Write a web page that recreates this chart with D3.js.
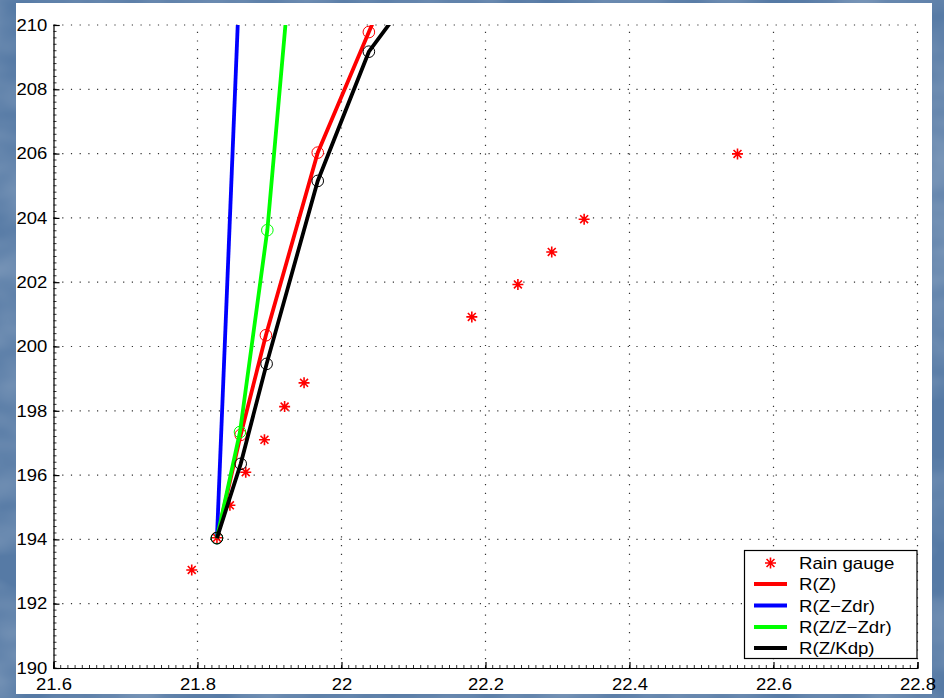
<!DOCTYPE html>
<html>
<head>
<meta charset="utf-8">
<script src="https://cdn.jsdelivr.net/npm/d3@7"></script>
<style>
  body { margin: 0; background: #5a7aa3; }
  svg { display: block; }
  text { font-family: "Liberation Sans", Arial, sans-serif; }
</style>
</head>
<body>
<svg id="chart" width="944" height="698"></svg>
<script>
var w = 944;
var h = 698;

// rain gauge points (asterisks)
var gaugeX = [21.792, 21.827, 21.845, 21.867, 21.893, 21.921, 21.948, 22.181, 22.245, 22.292, 22.337, 22.550];
var gaugeY = [193.05, 194.05, 195.06, 196.09, 197.10, 198.13, 198.87, 200.92, 201.93, 202.94, 203.96, 205.99];

// estimator lines (last point of each runs off the top and is clipped)
var rzX = [21.827, 21.860, 21.895, 21.967, 22.038, 22.071];
var rzY = [194.05, 197.25, 200.35, 206.03, 209.78, 211.5];
var zdrX = [21.827, 21.8595];
var zdrY = [194.04, 212];
var zzdrX = [21.827, 21.859, 21.897, 21.930];
var zzdrY = [194.04, 197.34, 203.62, 212];
var kdpX = [21.827, 21.860, 21.896, 21.967, 22.038, 22.115];
var kdpY = [194.04, 196.35, 199.46, 205.15, 209.17, 211.5];

var legendLabels = ["Rain gauge", "R(Z)", "R(Z\u2212Zdr)", "R(Z/Z\u2212Zdr)", "R(Z/Kdp)"];
var xTicks = [21.6, 21.8, 22, 22.2, 22.4, 22.6, 22.8];
var yTicks = [190, 192, 194, 196, 198, 200, 202, 204, 206, 208, 210];

var svg = d3.select("#chart");

// textured blue backdrop
var defs = svg.append("defs");
var f = defs.append("filter").attr("id", "tex").attr("x", 0).attr("y", 0).attr("width", 1).attr("height", 1);
f.append("feTurbulence").attr("type", "fractalNoise").attr("baseFrequency", "0.012 0.02").attr("numOctaves", 3).attr("seed", 4);
f.append("feColorMatrix").attr("type", "matrix")
  .attr("values", "0 0 0 0 1  0 0 0 0 1  0 0 0 0 1  0 0 0 0.4 -0.12");
defs.append("clipPath").attr("id", "plotclip")
  .append("rect").attr("x", 53.5).attr("y", 25).attr("width", 864).attr("height", 643);

svg.append("rect").attr("width", w).attr("height", h).attr("fill", "#567aa5");
svg.append("rect").attr("width", w).attr("height", h).attr("filter", "url(#tex)");

// white figure area
svg.append("rect").attr("x", 16).attr("y", 3).attr("width", 916).attr("height", 691).attr("fill", "#fff");

var x = d3.scaleLinear().domain([21.6, 22.8]).range([53.5, 917.5]);
var y = d3.scaleLinear().domain([190, 210]).range([668, 25]);

// dotted grid
var grid = svg.append("g").attr("stroke", "#333").attr("stroke-width", 1.2).attr("stroke-dasharray", "1.2,7.5");
grid.selectAll("line.gx").data(xTicks.slice(1)).join("line")
  .attr("x1", d => x(d)).attr("x2", d => x(d)).attr("y1", 668).attr("y2", 25);
grid.selectAll("line.gy").data(yTicks.slice(1)).join("line")
  .attr("y1", d => y(d)).attr("y2", d => y(d)).attr("x1", 53.5).attr("x2", 917.5);

// minor ticks
var minor = svg.append("g").attr("stroke", "#000").attr("stroke-width", 0.8);
minor.selectAll("line.mx").data(d3.range(21.6, 22.8001, 0.01)).join("line")
  .attr("x1", d => x(d)).attr("x2", d => x(d)).attr("y1", 668).attr("y2", 665);
minor.selectAll("line.my").data(d3.range(190, 210.001, 0.2)).join("line")
  .attr("y1", d => y(d)).attr("y2", d => y(d)).attr("x1", 53.5).attr("x2", 56.5);

var xAxis = d3.axisBottom(x).tickValues(xTicks).tickFormat(d3.format("")).tickSize(-6).tickPadding(10);
var yAxis = d3.axisLeft(y).tickValues(yTicks).tickSize(-6).tickPadding(8);

var gx = svg.append("g").attr("transform", "translate(0,668)").call(xAxis);
var gy = svg.append("g").attr("transform", "translate(53.5,0)").call(yAxis);
[gx, gy].forEach(function (g) {
  g.select(".domain").attr("stroke", "#000").attr("stroke-width", 1.2);
  g.selectAll(".tick line").attr("stroke", "#000").attr("stroke-width", 1.2);
  g.selectAll(".tick text").attr("fill", "#000").style("font-size", "16.5px");
});
gx.selectAll(".tick text").attr("transform", "scale(1.12,1)").attr("x", 0);
gy.selectAll(".tick text").attr("transform", "translate(-5,0) scale(1.12,1)").attr("x", -1);

// asterisk marker like matlab '*'
function star(g, cx, cy, r) {
  var a = r * 0.72;
  g.append("path")
    .attr("d", "M" + (cx - r) + "," + cy + "h" + 2 * r +
      "M" + cx + "," + (cy - r) + "v" + 2 * r +
      "M" + (cx - a) + "," + (cy - a) + "l" + 2 * a + "," + 2 * a +
      "M" + (cx - a) + "," + (cy + a) + "l" + 2 * a + "," + -2 * a)
    .attr("stroke", "#ff0000").attr("stroke-width", 1.6).attr("fill", "none");
}

var plot = svg.append("g").attr("clip-path", "url(#plotclip)");

var gaugeG = plot.append("g");
gaugeX.forEach(function (d, i) { star(gaugeG, x(d), y(gaugeY[i]), 5.5); });

var series = [
  { xs: rzX, ys: rzY, color: "#ff0000" },
  { xs: zdrX, ys: zdrY, color: "#0000ff" },
  { xs: zzdrX, ys: zzdrY, color: "#00ff00" },
  { xs: kdpX, ys: kdpY, color: "#000000" }
];

var line = d3.line().x(d => x(d[0])).y(d => y(d[1]));

series.forEach(function (s) {
  var pts = s.xs.map((d, i) => [d, s.ys[i]]);
  plot.append("path").datum(pts)
    .attr("d", line)
    .attr("fill", "none")
    .attr("stroke", s.color)
    .attr("stroke-width", 3.8);
  plot.selectAll(null).data(pts.filter(p => p[1] <= 210)).join("circle")
    .attr("cx", d => x(d[0]))
    .attr("cy", d => y(d[1]))
    .attr("r", 5.8)
    .attr("fill", "none")
    .attr("stroke", s.color)
    .attr("stroke-width", 1);
});

// legend
var lg = svg.append("g");
lg.append("rect").attr("x", 744.5).attr("y", 550.5).attr("width", 172.5).attr("height", 108)
  .attr("fill", "#fff").attr("stroke", "#000").attr("stroke-width", 1.2);
var rowY = [563, 584, 605.5, 627, 648];
legendLabels.forEach(function (lab, i) {
  if (i === 0) {
    star(lg, 770.5, rowY[i], 5.5);
  } else {
    lg.append("line").attr("x1", 754).attr("x2", 787).attr("y1", rowY[i]).attr("y2", rowY[i])
      .attr("stroke", series[i - 1].color).attr("stroke-width", 3.8);
  }
  lg.append("text")
    .attr("transform", "translate(799," + (rowY[i] + 6) + ") scale(1.13,1)")
    .style("font-size", "16.5px")
    .attr("fill", "#000")
    .text(lab);
});
</script>
</body>
</html>
